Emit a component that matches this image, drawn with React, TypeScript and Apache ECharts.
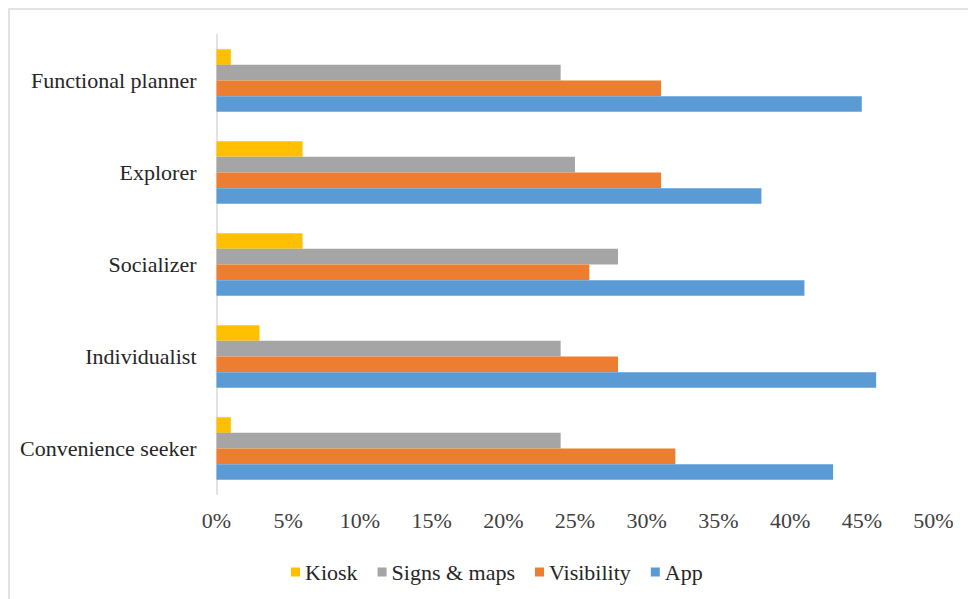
import React, { useEffect, useRef } from "react";
import * as echarts from "echarts";

// Respondent segments, bottom to top on the category axis
const segments = [
  "Convenience seeker",
  "Individualist",
  "Socializer",
  "Explorer",
  "Functional planner",
];

// Share of each segment using each wayfinding aid (%)
const kiosk = [1, 3, 6, 6, 1];
const signsAndMaps = [24, 24, 28, 25, 24];
const visibility = [32, 28, 26, 31, 31];
const app = [43, 46, 41, 38, 45];

const seriesNames = ["Kiosk", "Signs & maps", "Visibility", "App"];
const seriesColors = ["#FFC000", "#A5A5A5", "#ED7D31", "#5B9BD5"];

const FONT = "Liberation Serif";
const FONT_SIZE = 22;

export default function App() {
  const ref = useRef<HTMLDivElement>(null);

  useEffect(() => {
    if (!ref.current) return;
    const chart = echarts.init(ref.current, null, { renderer: "svg" });
    const values = [kiosk, signsAndMaps, visibility, app];
    chart.setOption({
      animation: false,
      backgroundColor: "#ffffff",
      textStyle: { fontFamily: FONT },
      grid: { left: 216.5, right: 34.5, top: 34.5, bottom: 104.5, containLabel: false },
      legend: {
        data: seriesNames,
        left: 286,
        top: 556,
        itemWidth: 9,
        itemHeight: 9,
        itemGap: 20,
        icon: "rect",
        textStyle: { fontFamily: FONT, fontSize: FONT_SIZE, color: "#262626" },
      },
      xAxis: {
        type: "value",
        min: 0,
        max: 50,
        interval: 5,
        axisLine: { show: false },
        axisTick: { show: false },
        splitLine: { show: false },
        axisLabel: {
          formatter: "{value}%",
          fontFamily: FONT,
          fontSize: FONT_SIZE,
          color: "#404040",
          margin: 15,
        },
      },
      yAxis: {
        type: "category",
        data: segments,
        axisLine: { show: true, lineStyle: { color: "#d9d9d9", width: 1.5 } },
        axisTick: { show: false },
        splitLine: { show: false },
        axisLabel: {
          fontFamily: FONT,
          fontSize: FONT_SIZE,
          color: "#262626",
          margin: 20,
        },
      },
      series: seriesNames.map((name, i) => ({
        name,
        type: "bar",
        data: values[i],
        barGap: "0%",
        barCategoryGap: "32%",
        itemStyle: { color: seriesColors[i] },
      })),
    });
    return () => chart.dispose();
  }, []);

  return (
    <div style={{ position: "fixed", left: 0, top: 0, width: 968, height: 599, background: "#fff" }}>
      <div ref={ref} style={{ position: "absolute", left: 0, top: 0, width: 968, height: 599 }} />
      <div
        style={{
          position: "absolute",
          left: 8,
          top: 8,
          width: 980,
          height: 610,
          borderTop: "2px solid #e3e3e3",
          borderLeft: "2px solid #e3e3e3",
          pointerEvents: "none",
        }}
      />
    </div>
  );
}
